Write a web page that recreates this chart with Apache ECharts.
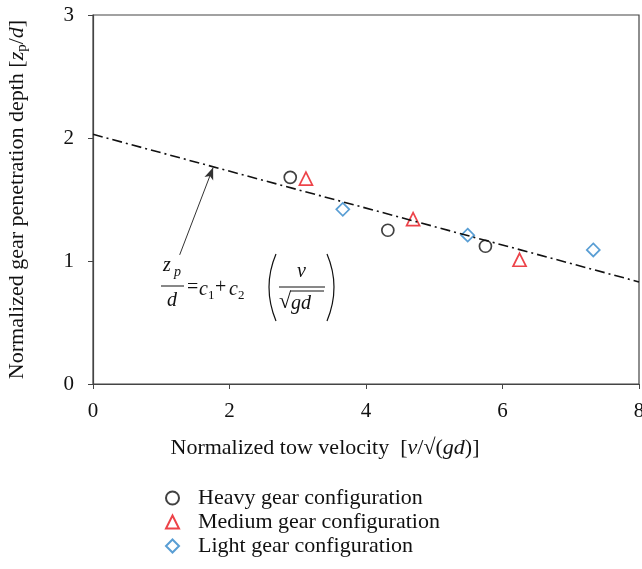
<!DOCTYPE html>
<html>
<head>
<meta charset="utf-8">
<script src="https://cdn.jsdelivr.net/npm/echarts@6/dist/echarts.min.js"></script>
<style>
  html, body { margin: 0; padding: 0; background: #fff; }
  #main { width: 642px; height: 569px; }
</style>
</head>
<body>
<div id="main"></div>
<script>
'use strict'

// 数据
let heavy = [[2.89, 1.68], [4.32, 1.25], [5.75, 1.12]];
let medium = [[3.12, 1.67], [4.69, 1.34], [6.25, 1.01]];
let light = [[3.66, 1.42], [5.49, 1.21], [7.33, 1.09]];
let fitLine = [[0, 2.03], [8, 0.83]];
let arrowFrom = [1.27, 1.05];
let arrowTo = [1.76, 1.76];
let xTicks = [0, 2, 4, 6, 8];
let yTicks = [0, 1, 2, 3];

let serif = 'Liberation Serif';
let myChart = echarts.init(document.getElementById('main'));

let eqText = function (x, y, text, opt) {
    return {
        type: 'text',
        x: x,
        y: y,
        z: 20,
        style: Object.assign({
            text: text,
            font: 'italic 20px "Liberation Serif"',
            fill: '#111',
            textAlign: 'left',
            textVerticalAlign: 'middle'
        }, opt || {})
    };
};
let eqLine = function (x1, y1, x2, y2) {
    return {
        type: 'line',
        z: 20,
        shape: { x1: x1, y1: y1, x2: x2, y2: y2 },
        style: { stroke: '#111', lineWidth: 1 }
    };
};

myChart.setOption({
    backgroundColor: '#fff',
    animation: false,
    grid: {
        left: 93,
        right: 3,
        top: 15,
        bottom: 185,
        outerBoundsMode: 'none',
        show: true,
        borderColor: '#444',
        borderWidth: 1.2
    },
    legend: {
        orient: 'vertical',
        left: 160,
        top: 482,
        itemWidth: 13,
        itemHeight: 13,
        itemGap: 2,
        data: ['Heavy gear configuration', 'Medium gear configuration', 'Light gear configuration'],
        textStyle: {
            fontFamily: serif,
            fontSize: 22,
            lineHeight: 22,
            color: '#111',
            padding: [0, 0, 0, 14]
        }
    },
    xAxis: {
        type: 'value',
        min: xTicks[0],
        max: xTicks[xTicks.length - 1],
        interval: 2,
        splitLine: { show: false },
        axisLine: { lineStyle: { color: '#444', width: 1.2 } },
        axisTick: { length: 5, lineStyle: { color: '#444' } },
        axisLabel: { fontFamily: serif, fontSize: 21, color: '#111', margin: 17 },
        name: '{n|Normalized tow velocity  [}{i|v}{n|/√(}{i|gd}{n|)]}',
        nameLocation: 'middle',
        nameMoveOverlap: false,
        nameGap: 53,
        nameTextStyle: {
            padding: [0, 82, 0, 0],
            rich: {
                n: { fontFamily: serif, fontSize: 22, color: '#111' },
                i: { fontFamily: serif, fontSize: 22, fontStyle: 'italic', color: '#111' }
            }
        }
    },
    yAxis: {
        type: 'value',
        min: yTicks[0],
        max: yTicks[yTicks.length - 1],
        interval: 1,
        splitLine: { show: false },
        axisLine: { show: true, lineStyle: { color: '#444', width: 1.2 } },
        axisTick: { show: true, length: 5, lineStyle: { color: '#444' } },
        axisLabel: { fontFamily: serif, fontSize: 21, color: '#111', margin: 19 },
        name: '{n|Normalized gear penetration depth [}{i|z}{s|p}{n|/}{i|d}{n|]}',
        nameLocation: 'middle',
        nameMoveOverlap: false,
        nameGap: 63,
        nameTextStyle: {
            rich: {
                n: { fontFamily: serif, fontSize: 22, color: '#111' },
                i: { fontFamily: serif, fontSize: 22, fontStyle: 'italic', color: '#111' },
                s: { fontFamily: serif, fontSize: 15, color: '#111', padding: [10, 0, 0, 0] }
            }
        }
    },
    series: [{
        name: 'fit',
        type: 'line',
        data: fitLine,
        symbol: 'none',
        silent: true,
        lineStyle: { color: '#111', width: 1.6, type: [10, 4, 2, 4] },
        markLine: {
            silent: true,
            symbol: ['none', 'arrow'],
            symbolSize: [7, 12],
            label: { show: false },
            lineStyle: { color: '#333', width: 1, type: 'solid' },
            data: [[{ coord: arrowFrom }, { coord: arrowTo }]]
        }
    }, {
        name: 'Heavy gear configuration',
        type: 'scatter',
        data: heavy,
        symbol: 'circle',
        symbolSize: 12,
        itemStyle: { color: '#fff', borderColor: '#111', borderWidth: 1.7 }
    }, {
        name: 'Medium gear configuration',
        type: 'scatter',
        data: medium,
        symbol: 'triangle',
        symbolSize: 13,
        itemStyle: { color: '#fff', borderColor: '#e8141c', borderWidth: 1.7 }
    }, {
        name: 'Light gear configuration',
        type: 'scatter',
        data: light,
        symbol: 'diamond',
        symbolSize: 13,
        itemStyle: { color: '#fff', borderColor: '#2f86c9', borderWidth: 1.7 }
    }],
    graphic: [
        // z_p / d
        eqText(163, 266, 'z'),
        eqText(174, 272, 'p', { font: 'italic 14px "Liberation Serif"' }),
        eqLine(161, 286, 184, 286),
        eqText(167, 301, 'd'),
        eqText(187, 288, '=', { font: '20px "Liberation Serif"' }),
        eqText(199, 290, 'c', {}),
        eqText(208, 296, '1', { font: '13px "Liberation Serif"' }),
        eqText(215, 288, '+', { font: '20px "Liberation Serif"' }),
        eqText(229, 290, 'c', {}),
        eqText(238, 296, '2', { font: '13px "Liberation Serif"' }),
        {
            type: 'bezierCurve', z: 20,
            shape: { x1: 276, y1: 254, x2: 276, y2: 321, cpx1: 262, cpy1: 287 },
            style: { stroke: '#111', lineWidth: 1.2, fill: 'none' }
        },
        eqText(297, 272, 'v'),
        eqLine(279, 287, 325, 287),
        eqText(279, 302, '√', { font: '22px "Liberation Serif"' }),
        eqLine(290, 291, 324, 291),
        eqText(291, 304, 'gd'),
        {
            type: 'bezierCurve', z: 20,
            shape: { x1: 327, y1: 254, x2: 327, y2: 321, cpx1: 341, cpy1: 287 },
            style: { stroke: '#111', lineWidth: 1.2, fill: 'none' }
        }
    ]
});
</script>
</body>
</html>
